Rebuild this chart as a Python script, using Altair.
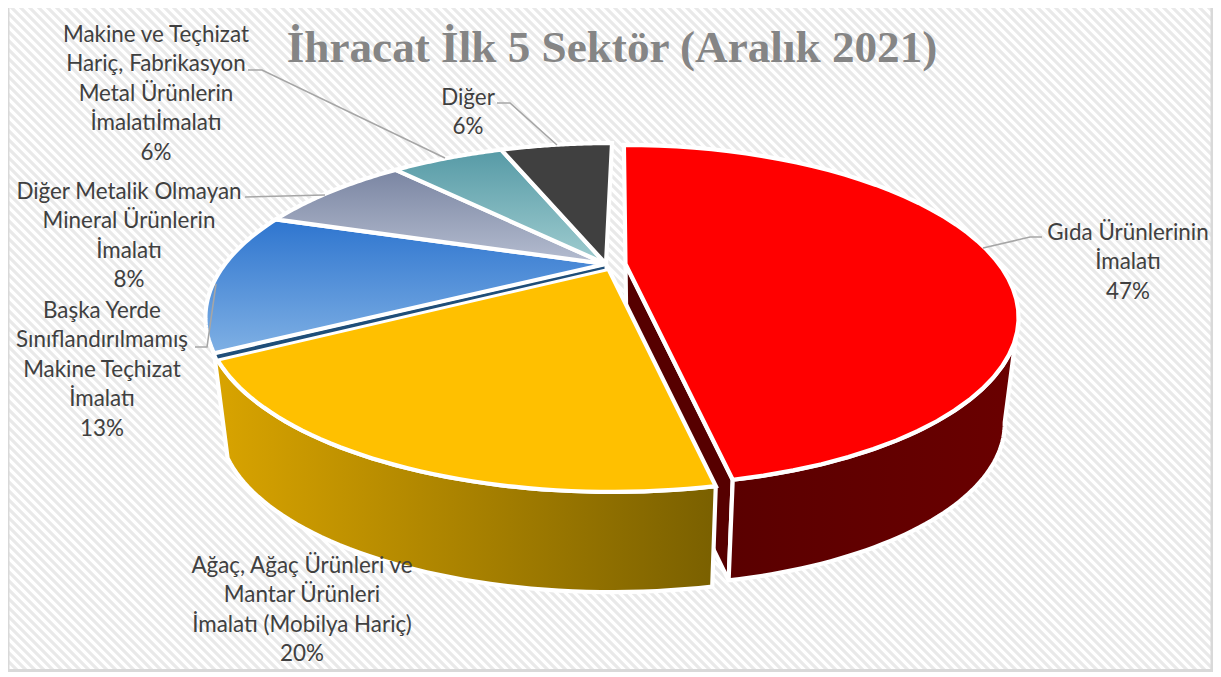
import math
import altair as alt
import pandas as pd

categories = ["Gıda Ürünlerinin İmalatı", "Ağaç, Ağaç Ürünleri ve Mantar Ürünleri İmalatı (Mobilya Hariç)",
              "Başka Yerde Sınıflandırılmamış Makine Teçhizat İmalatı",
              "Diğer Metalik Olmayan Mineral Ürünlerin İmalatı",
              "Makine ve Teçhizat Hariç, Fabrikasyon Metal Ürünlerin İmalatıİmalatı", "Diğer"]
values = [47, 20, 13, 8, 6, 6]
title_text = "İhracat İlk 5 Sektör (Aralık 2021)"
label_lines = [
    ["Gıda Ürünlerinin", "İmalatı", "47%"],
    ["Ağaç, Ağaç Ürünleri ve", "Mantar Ürünleri", "İmalatı (Mobilya Hariç)", "20%"],
    ["Başka Yerde", "Sınıflandırılmamış", "Makine Teçhizat", "İmalatı", "13%"],
    ["Diğer Metalik Olmayan", "Mineral Ürünlerin", "İmalatı", "8%"],
    ["Makine ve Teçhizat", "Hariç, Fabrikasyon", "Metal Ürünlerin", "İmalatıİmalatı", "6%"],
    ["Diğer", "6%"],
]
label_anchor = [(1128, 232.5), (302, 565.5), (102, 310.5), (129, 191.5), (156, 34.5), (468, 97.5)]
leaders = [
    [(1042, 237), (1030, 237), (983, 248)],
    [(195, 347), (207, 347), (216, 284)],
    [(245, 197), (325, 195)],
    [(248, 70), (262, 70), (445, 158)],
    [(497, 103), (510, 103), (557, 145)],
]

W, H = 1205, 664
x_scale = alt.Scale(domain=[8, 8 + W], range=[0, W], nice=False, zero=False)
y_scale = alt.Scale(domain=[8, 8 + H], range=[0, H], nice=False, zero=False)
X = lambda f="x": alt.X(f + ":Q", scale=x_scale, axis=None)
Y = lambda f="y": alt.Y(f + ":Q", scale=y_scale, axis=None)

# projection of the tilted pie
X0, Y0, A, B, K, TAPER, DEPTH = 612, 264, 387, 158, 0.3066, 0.966, 108
EXPLODE = 0.04
RED_RU, RED_RV = 0.96, 0.98


def project(u, v, lower=False, du=0.0, ru=1.0, rv=1.0):
    u = ru * u + du
    v = rv * v
    den = 1 + K * v
    s = TAPER if lower else 1.0
    return X0 + A * s * u / den, Y0 + (DEPTH if lower else 0) - B * s * v / den


def rim(a0, a1, lower=False, du=0.0, ru=1.0, rv=1.0, n=48):
    pts = []
    for i in range(n + 1):
        t = math.radians(a0 + (a1 - a0) * i / n)
        pts.append(project(math.sin(t), math.cos(t), lower, du, ru, rv))
    return pts


def poly(pts, fill, sw=4.2):
    pts = list(pts) + [pts[0]]
    df = pd.DataFrame({"x": [p[0] for p in pts], "y": [p[1] for p in pts], "i": range(len(pts))})
    return alt.Chart(df).mark_line(fill=fill, stroke="white", strokeWidth=sw, strokeJoin="miter",
                                   strokeMiterLimit=3, clip=True).encode(
        x=X(), y=Y(), order=alt.Order("i:Q"))


def grad(c0, c1, horizontal=False):
    return alt.Gradient(gradient="linear", x1=0, y1=0, x2=1 if horizontal else 0, y2=0 if horizontal else 1,
                        stops=[alt.GradientStop(offset=0, color=c0), alt.GradientStop(offset=1, color=c1)])


edges = [0]
for v in values:
    edges.append(edges[-1] + v * 3.6)

top_fills = ["#ff0000", "#ffc000", grad("#2e75cf", "#7fb0e4"), grad("#7a85a2", "#b5bdd0"),
             grad("#569aa6", "#a0cdd0"), "#404040"]

layers = []

# background stripes and frame
stripe_off = list(range(-680, 1240, 9))
stripes = pd.DataFrame({"x": [o for o in stripe_off], "x2": [o + 680 for o in stripe_off],
                        "y": [0] * len(stripe_off), "y2": [680] * len(stripe_off)})
layers.append(alt.Chart(stripes).mark_rule(color="#e9e9e9", strokeWidth=3.2, clip=True).encode(
    x=X(), x2="x2:Q", y=Y(), y2="y2:Q"))
frame = pd.DataFrame({"x": [8, 8, 1212, 1212, 8], "y": [0, 670.5, 670.5, 0, 0], "i": range(5)})
layers.append(alt.Chart(frame).mark_line(stroke="#d9d9d9", strokeWidth=3, clip=True).encode(
    x=X(), y=Y(), order=alt.Order("i:Q")))

# red slice (exploded): cut face, outer wall, top
a0, a1 = edges[0], edges[1]
red = dict(du=EXPLODE, ru=RED_RU, rv=RED_RV)
apex = project(0, 0, False, EXPLODE)
apex = (apex[0] - 2, apex[1])
apex_low = project(0, 0, True, EXPLODE)
end_top = rim(a1, a1, False, n=1, **red)[0]
end_low = rim(a1, a1, True, n=1, **red)[0]
layers.append(poly([apex, end_top, end_low, apex_low], "#560000"))
tan = 180 - math.degrees(math.acos(K))
layers.append(poly(rim(tan, a1, False, **red) + rim(a1, tan, True, **red), grad("#5a0000", "#6a0000", True)))
layers.append(poly([apex] + rim(a0, a1, False, **red), top_fills[0]))

# remaining slices: yellow wall, yellow top, blue cut face, other tops
centre = (X0 - 6, Y0)
a0, a1 = edges[1], edges[2]
layers.append(poly(rim(a0, a1) + rim(a1, a0, True), grad("#d9a400", "#7a6000", True)))
layers.append(poly([centre] + rim(a0, a1), top_fills[1]))
cut = rim(edges[2], edges[2], n=1)[0]
layers.append(poly([centre, cut, (cut[0] + 3, cut[1] + 7), (centre[0], centre[1] + 6)], "#1f4e79", 3))
for k in range(2, 6):
    layers.append(poly([centre] + rim(edges[k], edges[k + 1]), top_fills[k]))

# leader lines
rows = [{"x": p[0], "y": p[1], "g": g, "i": i} for g, line in enumerate(leaders) for i, p in enumerate(line)]
layers.append(alt.Chart(pd.DataFrame(rows)).mark_line(stroke="#a6a6a6", strokeWidth=1.6).encode(
    x=X(), y=Y(), detail="g:N", order=alt.Order("i:Q")))

# labels
LINE = 29.5
rows = [{"x": label_anchor[g][0], "y": label_anchor[g][1] + i * LINE, "t": t}
        for g, lines in enumerate(label_lines) for i, t in enumerate(lines)]
layers.append(alt.Chart(pd.DataFrame(rows)).mark_text(font="Lato", fontSize=22.4, color="#404040",
                                                      align="center", baseline="middle").encode(
    x=X(), y=Y(), text="t:N"))

# title
layers.append(alt.Chart(pd.DataFrame({"x": [612], "y": [48], "t": [title_text]})).mark_text(
    font="Liberation Serif", fontSize=45.2, fontWeight="bold", color="#858585", align="center",
    baseline="middle").encode(x=X(), y=Y(), text="t:N"))

chart = alt.layer(*layers).properties(width=W, height=H, padding=0, autosize=alt.AutoSizeParams(type="none"),
                                      background="white").configure_view(stroke=None)
chart.save("out.html", embed_options={"renderer": "svg", "actions": False})
